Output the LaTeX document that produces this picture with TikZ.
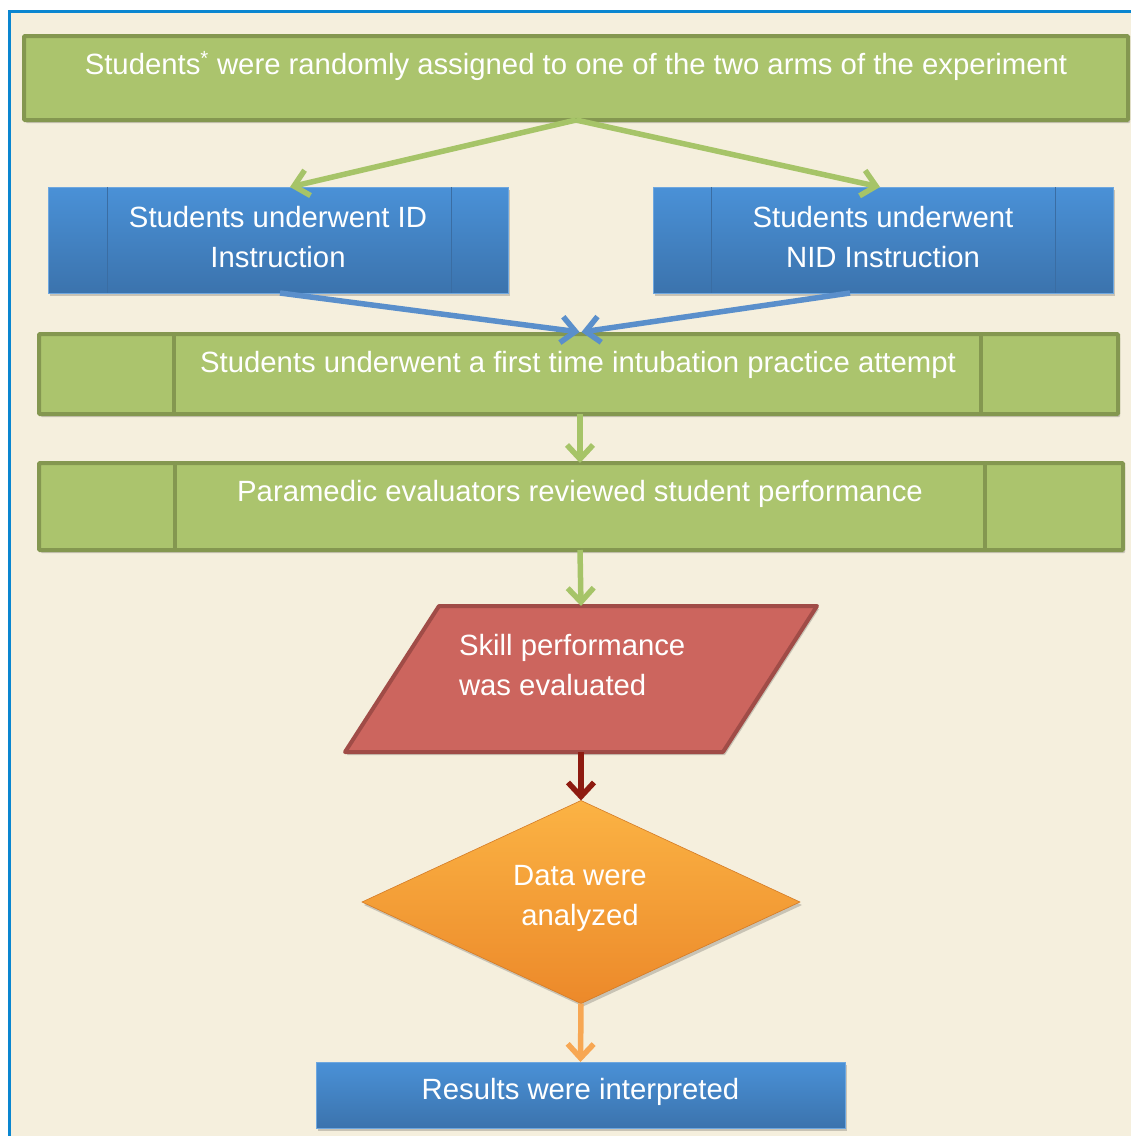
\documentclass[tikz,border=0pt]{standalone}
\usepackage{fontspec}
\setmainfont{Liberation Sans}
\usetikzlibrary{arrows.meta,shapes.geometric,calc,shadows}

\definecolor{paper}{HTML}{F5EFDD}
\definecolor{frameblue}{HTML}{0A86D0}
\definecolor{leaf}{HTML}{ABC46D}
\definecolor{leafdark}{HTML}{849750}
\definecolor{skytop}{HTML}{4A91D7}
\definecolor{skybot}{HTML}{3B73AD}
\definecolor{skyline}{HTML}{3A6DA3}
\definecolor{brick}{HTML}{CC655E}
\definecolor{brickdark}{HTML}{A04C47}
\definecolor{ambertop}{HTML}{FBB344}
\definecolor{amberbot}{HTML}{EC892A}
\definecolor{arrgreen}{HTML}{A6C468}
\definecolor{arrblue}{HTML}{5A8FCB}
\definecolor{arrred}{HTML}{8E1B10}
\definecolor{arrorange}{HTML}{F7A753}

\tikzset{
  x=1pt, y=-1pt,
  every node/.style={inner sep=0pt, outer sep=0pt},
  softshadow/.style={drop shadow={shadow xshift=2pt, shadow yshift=-3pt, opacity=0.18, fill=black}},
  greenbox/.style={rectangle, fill=leaf, draw=leafdark, line width=4pt, rounded corners=1pt, softshadow},
  bluebox/.style={rectangle, top color=skytop, bottom color=skybot, draw=skytop!80!white, line width=0.8pt, softshadow},
  divider/.style={draw=leafdark, line width=4pt},
  bluedivider/.style={draw=skyline, line width=0.8pt},
  txt/.style={text=white, font=\fontsize{29.3}{40}\selectfont, align=center},
  flowarrow/.style={line width=5.5pt, -{Straight Barb[length=14pt, width=26pt, line width=5.5pt]}},
}

\begin{document}
\begin{tikzpicture}
  \useasboundingbox (0,0) rectangle (1131,1136);
  \clip (0,0) rectangle (1131,1136);

  % page and frame
  \fill[white] (0,0) rectangle (1131,1136);
  \fill[paper] (9,11) rectangle (1160,1160);
  \draw[frameblue, line width=3pt] (9,1160) -- (9,11) -- (1160,11);

  % step 1: random assignment
  \node[greenbox, minimum width=1104pt, minimum height=84pt] (assign) at (576,78) {};
  \node[txt] (assigntxt) at (576,65.5)
    {Students\textsuperscript{*} were randomly assigned to one of the two arms of the experiment};

  % step 2: the two instruction arms
  \node[bluebox, minimum width=460pt, minimum height=106pt] (id) at (278,240) {};
  \draw[bluedivider] ([xshift=59pt]id.north west) -- ([xshift=59pt]id.south west);
  \draw[bluedivider] ([xshift=-57pt]id.north east) -- ([xshift=-57pt]id.south east);
  \node[txt] (idtxt) at (278,237) {Students underwent ID\\Instruction};

  \node[bluebox, minimum width=460pt, minimum height=106pt] (nid) at (883,240) {};
  \draw[bluedivider] ([xshift=58pt]nid.north west) -- ([xshift=58pt]nid.south west);
  \draw[bluedivider] ([xshift=-58pt]nid.north east) -- ([xshift=-58pt]nid.south east);
  \node[txt] (nidtxt) at (883,237) {Students underwent\\NID Instruction};

  % step 3: first practice attempt
  \node[greenbox, minimum width=1079pt, minimum height=80pt] (practice) at (578.5,374) {};
  \draw[divider] ([xshift=135pt]practice.north west) -- ([xshift=135pt]practice.south west);
  \draw[divider] ([xshift=-137pt]practice.north east) -- ([xshift=-137pt]practice.south east);
  \node[txt] (practicetxt) at (578,364.5) {Students underwent a first time intubation practice attempt};

  % step 4: evaluator review
  \node[greenbox, minimum width=1084pt, minimum height=87pt] (review) at (581,506.5) {};
  \draw[divider] ([xshift=136pt]review.north west) -- ([xshift=136pt]review.south west);
  \draw[divider] ([xshift=-138pt]review.north east) -- ([xshift=-138pt]review.south east);
  \node[txt] (reviewtxt) at (580,493.5) {Paramedic evaluators reviewed student performance};

  % step 5: skill evaluation (parallelogram)
  \node[minimum width=472pt, minimum height=146pt] (skill) at (581,679) {};
  \path[fill=brick, draw=brickdark, line width=4pt, line join=round, softshadow]
    (skill.south west) -- ++(378pt,0pt) -- (skill.north east) -- ++(-378pt,0pt) -- cycle;
  \node[txt, align=left, anchor=west] (skilltxt) at (459,665.5) {Skill performance\\was evaluated};

  % step 6: analysis (diamond)
  \node[diamond, minimum width=438pt, minimum height=203pt, top color=ambertop, bottom color=amberbot,
        draw=amberbot!90!black, line width=0.6pt, softshadow] (data) at (581,902) {};
  \node[txt] (datatxt) at (580,898.5) {Data were\\analyzed};

  % step 7: interpretation
  \node[bluebox, minimum width=529pt, minimum height=66pt] (results) at (580.5,1095) {};
  \node[txt] (resultstxt) at (580.5,1091.5) {Results were interpreted};

  % connectors
  \draw[flowarrow, arrgreen] (assign.south) -- ([xshift=12pt]id.north);
  \draw[flowarrow, arrgreen] (assign.south) -- ([xshift=-3pt]nid.north);
  \draw[flowarrow, arrblue] ([xshift=2pt]id.south) -- ([xshift=1pt,yshift=2pt]practice.north);
  \draw[flowarrow, arrblue] ([xshift=-33pt]nid.south) -- ([xshift=3pt,yshift=2pt]practice.north);
  \draw[flowarrow, arrgreen] ([xshift=1.5pt]practice.south) -- ([xshift=-1pt]review.north);
  \draw[flowarrow, arrgreen] ([xshift=-1pt]review.south) -- (skill.north);
  \draw[flowarrow, arrred] (skill.south) -- (data.north);
  \draw[flowarrow, arrorange] (data.south) -- (results.north);
\end{tikzpicture}
\end{document}
